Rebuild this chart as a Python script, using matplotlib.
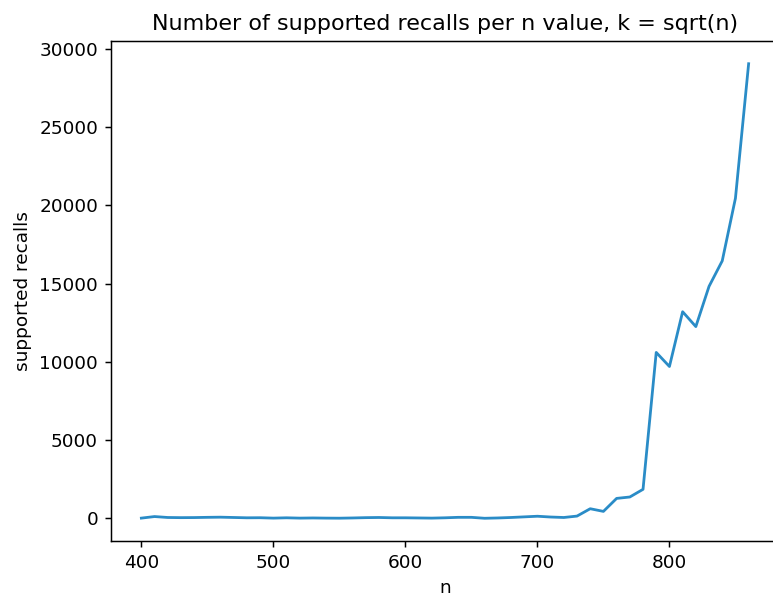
import matplotlib
matplotlib.use("Agg")
from matplotlib import pyplot as plt


n_values = [400, 410, 420, 430, 440, 450, 460, 470, 480, 490,
            500, 510, 520, 530, 540, 550, 560, 570, 580, 590,
            600, 610, 620, 630, 640, 650, 660, 670, 680, 690,
            700, 710, 720, 730, 740, 750, 760, 770, 780, 790,
            800, 810, 820, 830, 840, 850, 860]

recalls = [10, 110, 50, 40, 45, 60, 70, 50, 30, 35,
           10, 30, 10, 20, 10, 5, 20, 40, 50, 30,
           30, 20, 10, 30, 60, 60, 0, 20, 50, 90,
           130, 80, 50, 140, 610, 440, 1270, 1360, 1850, 10600,
           9700, 13200, 12250, 14820, 16450, 20450, 29050]


dpi = 133.333
fig = plt.figure(figsize=(773 / dpi, 596 / dpi), dpi=dpi)
ax = fig.add_axes([111 / 773, 55 / 596, 668 / 773, 500 / 596])

ax.plot(n_values, recalls, color="#2a8cc7")

ax.set_title("Number of supported recalls per n value, k = sqrt(n)")
ax.set_xlabel("n")
ax.set_ylabel("supported recalls")

fig.savefig("out.png", dpi=dpi)
